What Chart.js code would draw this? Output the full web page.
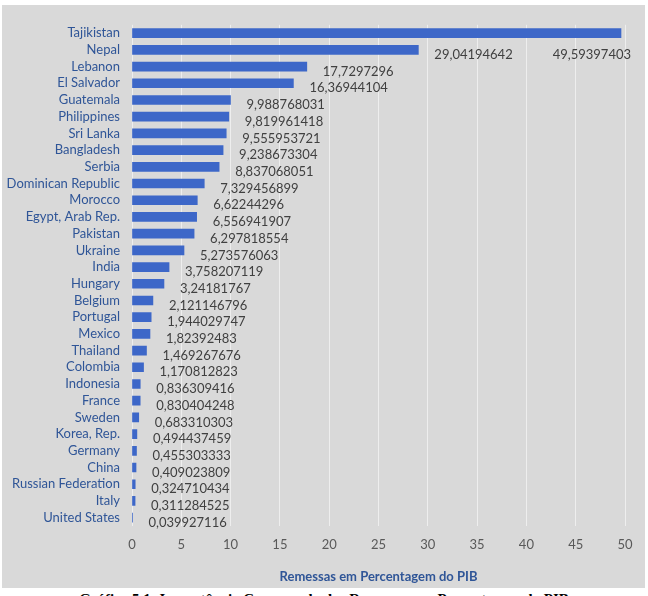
<!DOCTYPE html>
<html>
<head>
<meta charset="utf-8">
<script src="https://cdn.jsdelivr.net/npm/chart.js@4.4.0/dist/chart.umd.min.js"></script>
<style>
    html, body { margin: 0; padding: 0; background: #ffffff; overflow: hidden; }
    body { width: 648px; height: 596px; position: relative; }
    #panel {
        position: absolute; left: 2px; top: 5px; width: 643px; height: 583px;
        background: #d9d9d9;
    }
    #caption {
        position: absolute; left: 0; top: 591px; width: 648px; text-align: center;
        font-family: "Liberation Serif", serif; font-weight: bold; font-size: 15px;
        color: #000; white-space: nowrap;
    }
</style>
</head>
<body>
<div id="panel"><canvas id="remit-chart"></canvas></div>
<div id="caption">Gráfico 5.1: Importância Comparada das Remessas em Percentagem do PIB</div>

<script>
// Countries, top to bottom
const countries = [
    'Tajikistan', 'Nepal', 'Lebanon', 'El Salvador', 'Guatemala', 'Philippines',
    'Sri Lanka', 'Bangladesh', 'Serbia', 'Dominican Republic', 'Morocco',
    'Egypt, Arab Rep.', 'Pakistan', 'Ukraine', 'India', 'Hungary', 'Belgium',
    'Portugal', 'Mexico', 'Thailand', 'Colombia', 'Indonesia', 'France', 'Sweden',
    'Korea, Rep.', 'Germany', 'China', 'Russian Federation', 'Italy', 'United States'
];

// Remittances as % of GDP
const remittances = [
    49.59397403, 29.04194642, 17.7297296, 16.36944104, 9.988768031, 9.819961418,
    9.555953721, 9.238673304, 8.837068051, 7.329456899, 6.62244296,
    6.556941907, 6.297818554, 5.273576063, 3.758207119, 3.24181767, 2.121146796,
    1.944029747, 1.82392483, 1.469267676, 1.170812823, 0.836309416, 0.830404248, 0.683310303,
    0.494437459, 0.455303333, 0.409023809, 0.324710434, 0.311284525, 0.039927116
];

const xTicks = [0, 5, 10, 15, 20, 25, 30, 35, 40, 45, 50];

const FONT = 'Lato, "Liberation Sans", sans-serif';

// value labels, Excel style: right of the bar, a bit lower
const valueLabels = {
    id: 'valueLabels',
    afterDatasetsDraw(chart) {
        const ctx = chart.ctx;
        const meta = chart.getDatasetMeta(0);
        const area = chart.chartArea;
        ctx.save();
        ctx.font = '13px ' + FONT;
        ctx.fillStyle = '#404040';
        ctx.textBaseline = 'middle';
        meta.data.forEach((bar, i) => {
            const txt = String(remittances[i]).replace('.', ',');
            const w = ctx.measureText(txt).width;
            let x = bar.x + 16;
            let y = bar.y + 5;
            if (x + w > area.right + 6) {
                // no room: tuck it under the bar at the right edge
                ctx.textAlign = 'right';
                x = area.right + 6;
                y = bar.y + 22;
            } else {
                ctx.textAlign = 'left';
            }
            ctx.fillText(txt, x, y);
        });
        ctx.restore();
    }
};

const ctx = document.getElementById('remit-chart').getContext('2d');

new Chart(ctx, {
    type: 'bar',
    data: {
        labels: countries,
        datasets: [{
            data: remittances,
            backgroundColor: function(c) {
                const bar = c.element;
                if (!bar || bar.y === undefined) return '#3d67c8';
                const g = c.chart.ctx.createLinearGradient(0, bar.y - 5, 0, bar.y + 5);
                g.addColorStop(0, '#5580d8');
                g.addColorStop(0.5, '#3d67c8');
                g.addColorStop(1, '#2a4f9e');
                return g;
            },
            borderWidth: 0,
            barThickness: 9
        }]
    },
    options: {
        indexAxis: 'y',
        responsive: true,
        maintainAspectRatio: false,
        animation: false,
        layout: { padding: { top: 17, right: 20, left: 0, bottom: 0 } },
        plugins: {
            legend: { display: false },
            tooltip: { enabled: false }
        },
        scales: {
            x: {
                min: 0,
                max: 50,
                afterBuildTicks: s => { s.ticks = xTicks.map(v => ({ value: v })); },
                afterFit: s => { s.height = 62; },
                grid: { color: 'rgba(255,255,255,0.55)', drawTicks: false },
                border: { display: false },
                ticks: {
                    color: '#595959',
                    padding: 11,
                    font: { family: FONT, size: 13 }
                },
                title: {
                    display: true,
                    text: 'Remessas em Percentagem do PIB',
                    color: '#2f5597',
                    padding: { top: 4, bottom: 3 },
                    font: { family: FONT, size: 13, weight: 'bold' }
                }
            },
            y: {
                afterFit: s => { s.width = 130; },
                grid: { display: false, drawTicks: false },
                border: { display: false },
                ticks: {
                    color: '#2f5597',
                    padding: 12,
                    autoSkip: false,
                    font: { family: FONT, size: 13 }
                }
            }
        }
    },
    plugins: [valueLabels]
});
</script>
</body>
</html>
